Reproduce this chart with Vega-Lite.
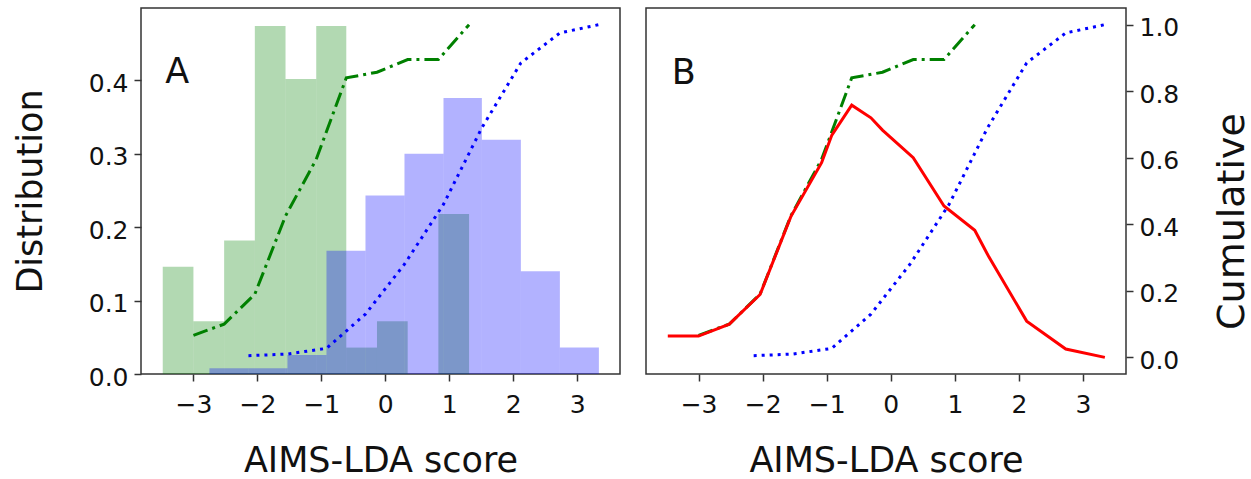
{
  "$schema": "https://vega.github.io/schema/vega-lite/v6.json",
  "padding": {"left": 12, "top": 7, "right": 0, "bottom": 0},
  "background": "white",
  "spacing": 24,
  "config": {
    "font": "DejaVu Sans",
    "view": {"stroke": "#333333", "strokeWidth": 1.5},
    "axis": {
      "grid": false, "domain": false,
      "tickColor": "#333333", "tickWidth": 1.5, "tickSize": 7,
      "labelFont": "DejaVu Sans", "labelFontSize": 25, "labelColor": "#111111",
      "titleFont": "DejaVu Sans", "titleFontSize": 35, "titleFontWeight": "normal", "titleColor": "#111111"
    }
  },
  "datasets": {
    "hist": [
      {"g": "green", "x0": -3.48, "x1": -3.0, "d": 0.146},
      {"g": "green", "x0": -3.0, "x1": -2.52, "d": 0.072},
      {"g": "green", "x0": -2.52, "x1": -2.04, "d": 0.182},
      {"g": "green", "x0": -2.04, "x1": -1.56, "d": 0.474},
      {"g": "green", "x0": -1.56, "x1": -1.08, "d": 0.402},
      {"g": "green", "x0": -1.08, "x1": -0.61, "d": 0.474},
      {"g": "green", "x0": -0.61, "x1": -0.13, "d": 0.036},
      {"g": "green", "x0": -0.13, "x1": 0.35, "d": 0.072},
      {"g": "green", "x0": 0.83, "x1": 1.31, "d": 0.218},
      {"g": "blue", "x0": -2.75, "x1": -2.14, "d": 0.008},
      {"g": "blue", "x0": -2.14, "x1": -1.53, "d": 0.008},
      {"g": "blue", "x0": -1.53, "x1": -0.92, "d": 0.026},
      {"g": "blue", "x0": -0.92, "x1": -0.31, "d": 0.168},
      {"g": "blue", "x0": -0.31, "x1": 0.30, "d": 0.243},
      {"g": "blue", "x0": 0.30, "x1": 0.91, "d": 0.300},
      {"g": "blue", "x0": 0.91, "x1": 1.51, "d": 0.376},
      {"g": "blue", "x0": 1.51, "x1": 2.12, "d": 0.319},
      {"g": "blue", "x0": 2.12, "x1": 2.73, "d": 0.140},
      {"g": "blue", "x0": 2.73, "x1": 3.34, "d": 0.036}
    ],
    "green_cum": [
      {"x": -3.0, "c": 0.066}, {"x": -2.52, "c": 0.10}, {"x": -2.04, "c": 0.19},
      {"x": -1.56, "c": 0.425}, {"x": -1.08, "c": 0.595}, {"x": -0.61, "c": 0.84},
      {"x": -0.13, "c": 0.857}, {"x": 0.35, "c": 0.895}, {"x": 0.83, "c": 0.895},
      {"x": 1.31, "c": 1.0}
    ],
    "blue_cum": [
      {"x": -2.14, "c": 0.005}, {"x": -1.53, "c": 0.01}, {"x": -0.92, "c": 0.027},
      {"x": -0.31, "c": 0.13}, {"x": 0.30, "c": 0.28}, {"x": 0.91, "c": 0.46},
      {"x": 1.51, "c": 0.69}, {"x": 2.12, "c": 0.885}, {"x": 2.73, "c": 0.975},
      {"x": 3.34, "c": 1.0}
    ],
    "red": [
      {"x": -3.48, "c": 0.064}, {"x": -3.0, "c": 0.064}, {"x": -2.52, "c": 0.10},
      {"x": -2.04, "c": 0.189}, {"x": -1.56, "c": 0.423}, {"x": -1.08, "c": 0.585},
      {"x": -0.92, "c": 0.668}, {"x": -0.61, "c": 0.758}, {"x": -0.31, "c": 0.72},
      {"x": -0.13, "c": 0.683}, {"x": 0.35, "c": 0.60}, {"x": 0.83, "c": 0.455},
      {"x": 1.31, "c": 0.382}, {"x": 1.53, "c": 0.302}, {"x": 2.12, "c": 0.109},
      {"x": 2.73, "c": 0.025}, {"x": 3.34, "c": 0.0}
    ],
    "labA": [{"t": "A"}],
    "labB": [{"t": "B"}]
  },
  "hconcat": [
    {
      "width": 479, "height": 366,
      "resolve": {"scale": {"y": "independent"}},
      "layer": [
        {
          "data": {"name": "hist"},
          "mark": {"type": "bar", "opacity": 0.3},
          "encoding": {
            "x": {"field": "x0", "type": "quantitative",
                  "scale": {"domain": [-3.82, 3.67], "nice": false, "zero": false},
                  "axis": {"title": "AIMS-LDA score", "values": [-3, -2, -1, 0, 1, 2, 3], "format": "d", "labelPadding": 11, "titleY": 97, "titleBaseline": "alphabetic"}},
            "x2": {"field": "x1"},
            "y": {"field": "d", "type": "quantitative",
                  "scale": {"domain": [0, 0.4986], "nice": false},
                  "axis": {"title": "Distribution", "values": [0, 0.1, 0.2, 0.3, 0.4], "format": ".1f", "labelPadding": 6, "labelOffset": 3, "titleX": -99.3, "titleY": 183, "titleBaseline": "alphabetic"}},
            "y2": {"datum": 0},
            "color": {"field": "g", "type": "nominal", "scale": {"domain": ["green", "blue"], "range": ["#008000", "#0000ff"]}, "legend": null}
          }
        },
        {
          "data": {"name": "labA"},
          "mark": {"type": "text", "fontSize": 35, "align": "left", "baseline": "alphabetic", "font": "DejaVu Sans", "color": "#111111"},
          "encoding": {
            "text": {"field": "t"},
            "x": {"datum": -3.44, "type": "quantitative", "scale": {"domain": [-3.82, 3.67], "nice": false, "zero": false}},
            "y": {"datum": 0.396, "type": "quantitative", "scale": {"domain": [0, 0.4986], "nice": false}, "axis": null}
          }
        },
        {
          "data": {"name": "green_cum"},
          "mark": {"type": "line", "color": "#008000", "strokeWidth": 3, "strokeDash": [15, 5, 3, 5]},
          "encoding": {
            "x": {"field": "x", "type": "quantitative", "scale": {"domain": [-3.82, 3.67], "nice": false, "zero": false}},
            "y": {"field": "c", "type": "quantitative", "scale": {"domain": [-0.05, 1.05], "nice": false, "zero": false}, "axis": null}
          }
        },
        {
          "data": {"name": "blue_cum"},
          "mark": {"type": "line", "color": "#0000ff", "strokeWidth": 3, "strokeDash": [3, 5]},
          "encoding": {
            "x": {"field": "x", "type": "quantitative", "scale": {"domain": [-3.82, 3.67], "nice": false, "zero": false}},
            "y": {"field": "c", "type": "quantitative", "scale": {"domain": [-0.05, 1.05], "nice": false, "zero": false}, "axis": null}
          }
        }
      ]
    },
    {
      "width": 480, "height": 366,
      "layer": [
        {
          "data": {"name": "green_cum"},
          "mark": {"type": "line", "color": "#008000", "strokeWidth": 3, "strokeDash": [15, 5, 3, 5]},
          "encoding": {
            "x": {"field": "x", "type": "quantitative",
                  "scale": {"domain": [-3.82, 3.67], "nice": false, "zero": false},
                  "axis": {"title": "AIMS-LDA score", "values": [-3, -2, -1, 0, 1, 2, 3], "format": "d", "labelPadding": 11, "titleY": 97, "titleBaseline": "alphabetic"}},
            "y": {"field": "c", "type": "quantitative",
                  "scale": {"domain": [-0.05, 1.05], "nice": false, "zero": false},
                  "axis": {"orient": "right", "title": "Cumulative", "values": [0, 0.2, 0.4, 0.6, 0.8, 1.0], "format": ".1f", "labelPadding": 6, "labelOffset": 3, "titleAngle": 270, "titleX": 117, "titleY": 213, "titleFontSize": 38, "titleBaseline": "alphabetic"}}
          }
        },
        {
          "data": {"name": "blue_cum"},
          "mark": {"type": "line", "color": "#0000ff", "strokeWidth": 3, "strokeDash": [3, 5]},
          "encoding": {
            "x": {"field": "x", "type": "quantitative", "scale": {"domain": [-3.82, 3.67], "nice": false, "zero": false}},
            "y": {"field": "c", "type": "quantitative", "scale": {"domain": [-0.05, 1.05], "nice": false, "zero": false}}
          }
        },
        {
          "data": {"name": "red"},
          "mark": {"type": "line", "color": "#ff0000", "strokeWidth": 3},
          "encoding": {
            "x": {"field": "x", "type": "quantitative", "scale": {"domain": [-3.82, 3.67], "nice": false, "zero": false}},
            "y": {"field": "c", "type": "quantitative", "scale": {"domain": [-0.05, 1.05], "nice": false, "zero": false}}
          }
        },
        {
          "data": {"name": "labB"},
          "mark": {"type": "text", "fontSize": 35, "align": "left", "baseline": "alphabetic", "font": "DejaVu Sans", "color": "#111111"},
          "encoding": {
            "text": {"field": "t"},
            "x": {"datum": -3.42, "type": "quantitative", "scale": {"domain": [-3.82, 3.67], "nice": false, "zero": false}},
            "y": {"datum": 0.823, "type": "quantitative", "scale": {"domain": [-0.05, 1.05], "nice": false, "zero": false}}
          }
        }
      ]
    }
  ]
}
